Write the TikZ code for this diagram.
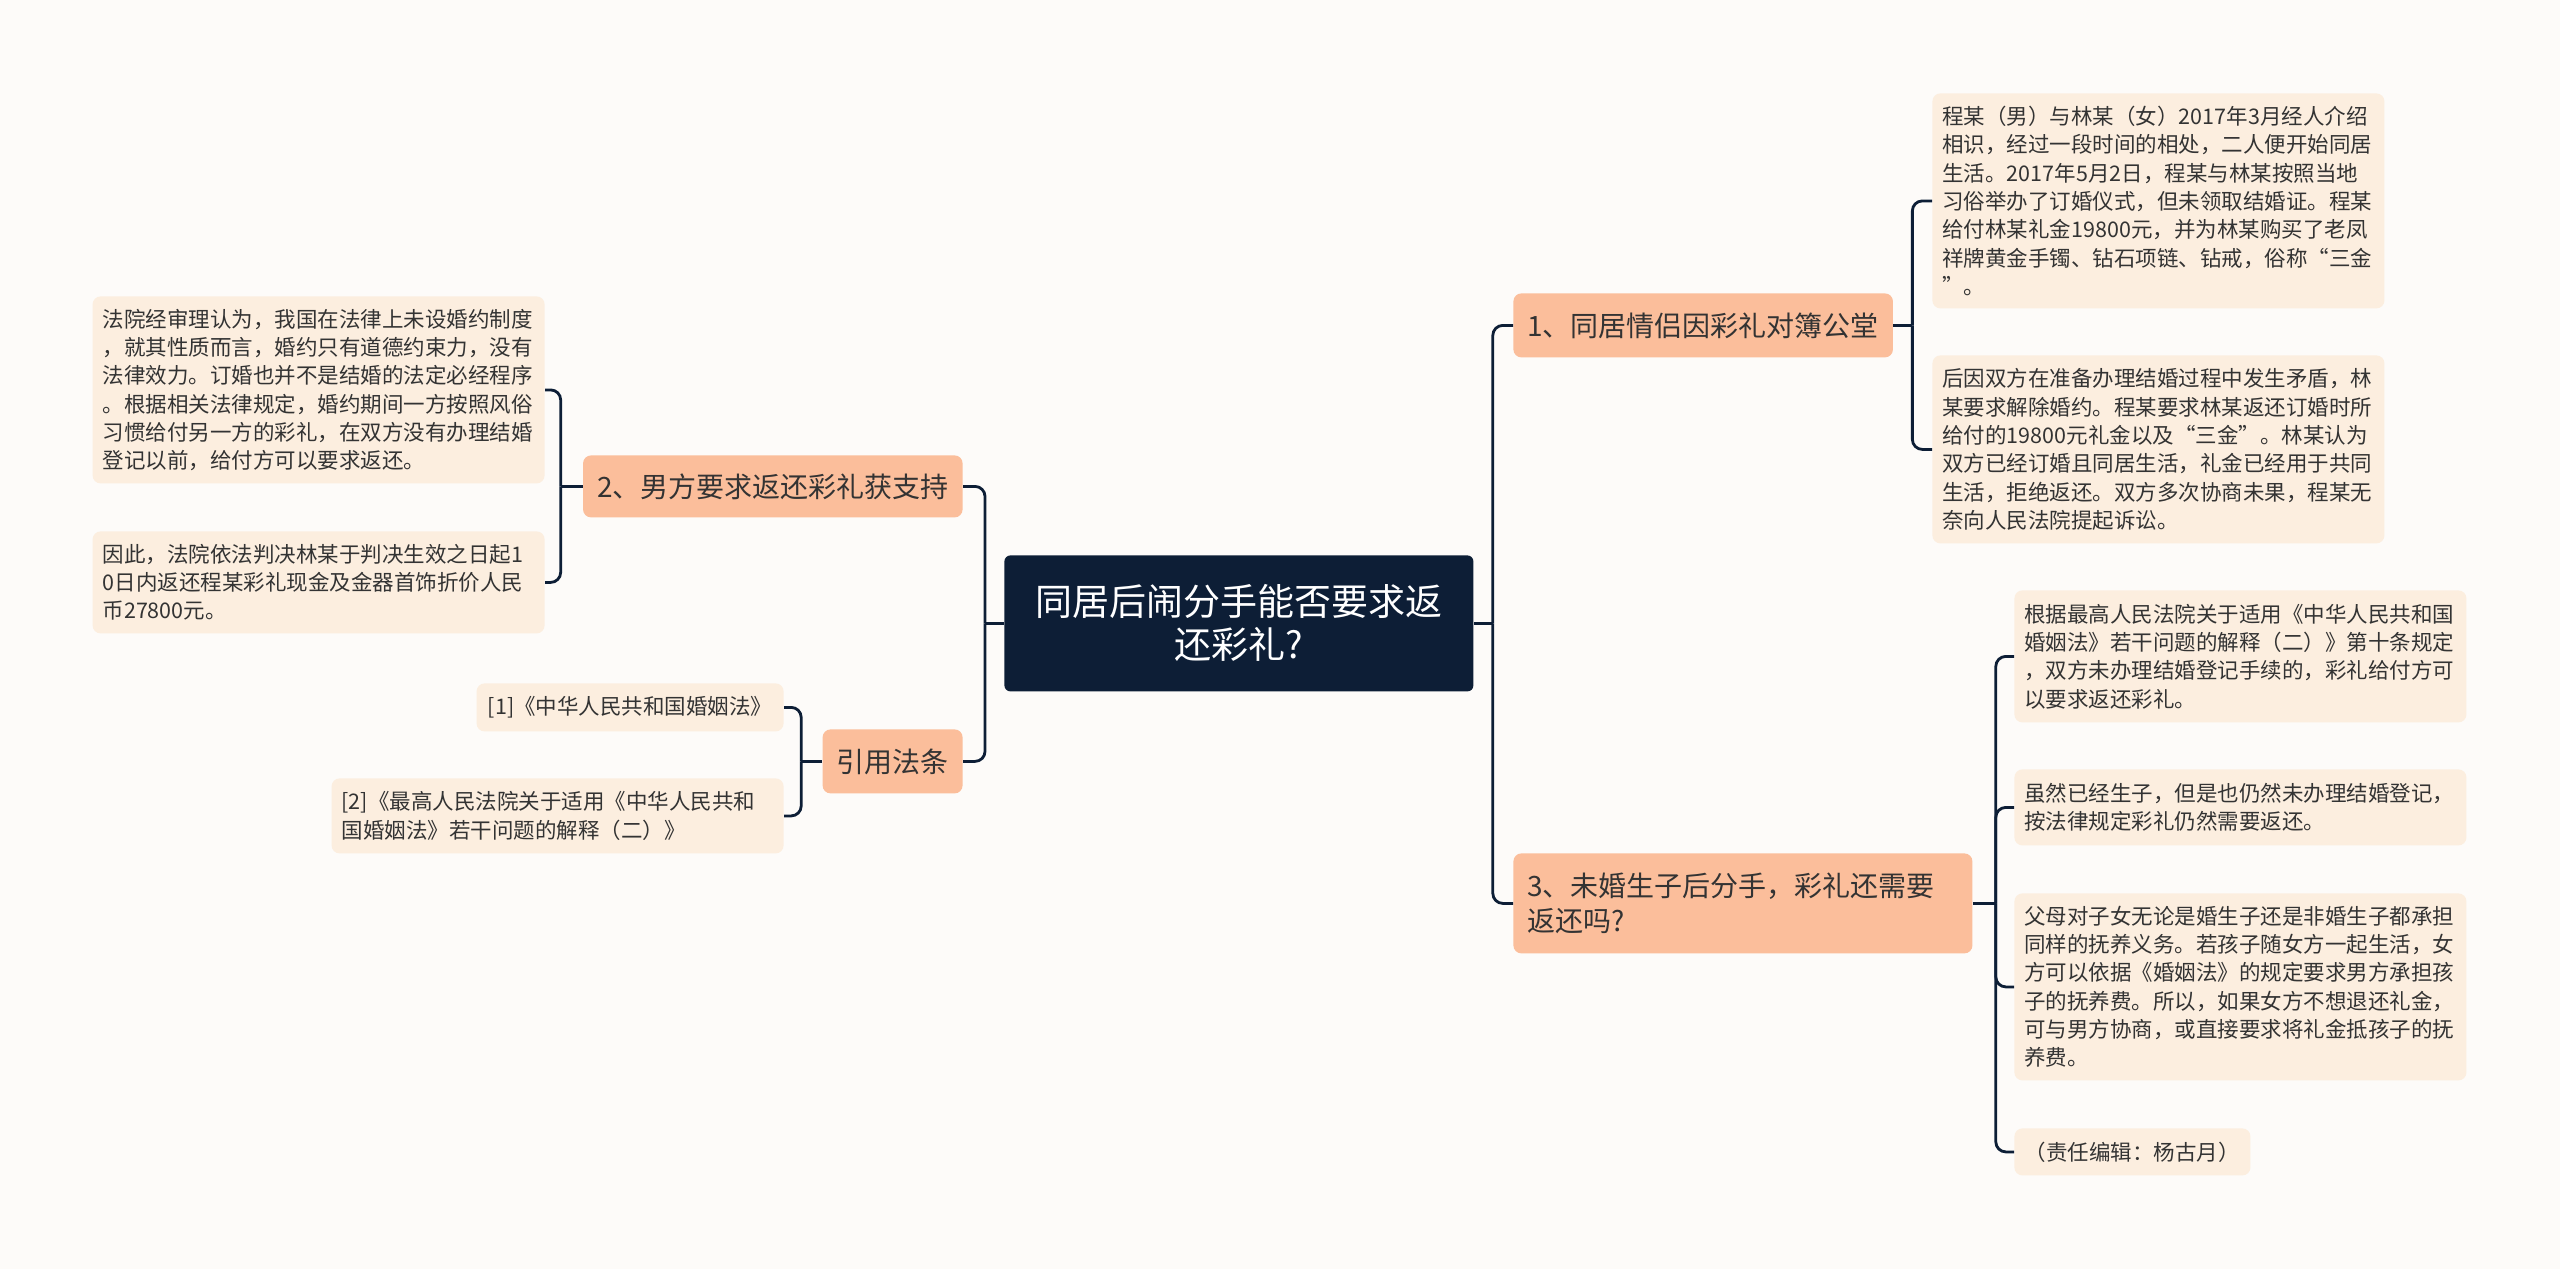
\documentclass[tikz,border=0pt]{standalone}
\usepackage{fontspec}
\setmainfont{Noto Sans CJK SC}
\definecolor{bgc}{HTML}{FDFBF9}
\definecolor{navy}{HTML}{0D1E36}
\definecolor{topicc}{HTML}{FBBE9B}
\definecolor{leafc}{HTML}{FCEEDF}
\definecolor{inkc}{HTML}{333333}

\begin{document}
\begin{tikzpicture}[x=0.5pt,y=-0.5pt,
  link/.style={draw=navy,line width=1.4pt,rounded corners=5pt},
  rootbox/.style={fill=navy,text=white,rounded corners=3pt,align=center,
    font=\fontsize{18.5pt}{21.5pt}\selectfont,minimum width=234.5pt,minimum height=68pt},
  topic/.style={fill=topicc,text=inkc,rounded corners=4pt,inner xsep=7pt,
    font=\fontsize{14pt}{17.2pt}\selectfont,minimum height=32pt},
  leaf/.style={fill=leafc,text=inkc,rounded corners=4pt,inner xsep=5pt,align=left,
    font=\fontsize{10.75pt}{14.15pt}\selectfont},
  wide/.style={text width=216pt}]
  % canvas
  \fill[bgc] (0,0) rectangle (2560,1269);
  \useasboundingbox (0,0) rectangle (2560,1269);
  % central topic
  \node[rootbox,anchor=north west] (root) at (1004,555) {同居后闹分手能否要求返\\还彩礼?};
  % right side
  \node[topic,anchor=north west,minimum width=189pt] (n1) at (1513,293) {1、同居情侣因彩礼对簿公堂};
  \node[topic,anchor=north west,minimum height=50pt,text width=215.5pt,align=left] (n3) at (1513,853)
       {3、未婚生子后分手，彩礼还需要\\返还吗?};
  \node[leaf,wide,anchor=north west,minimum height=107.5pt] (l1a) at (1932,93)
       {程某（男）与林某（女）2017年3月经人介绍\\相识，经过一段时间的相处，二人便开始同居\\生活。2017年5月2日，程某与林某按照当地\\习俗举办了订婚仪式，但未领取结婚证。程某\\给付林某礼金19800元，并为林某购买了老凤\\祥牌黄金手镯、钻石项链、钻戒，俗称“三金\\”。};
  \node[leaf,wide,anchor=north west,minimum height=94pt] (l1b) at (1932,355)
       {后因双方在准备办理结婚过程中发生矛盾，林\\某要求解除婚约。程某要求林某返还订婚时所\\给付的19800元礼金以及“三金”。林某认为\\双方已经订婚且同居生活，礼金已经用于共同\\生活，拒绝返还。双方多次协商未果，程某无\\奈向人民法院提起诉讼。};
  \node[leaf,wide,anchor=north west,minimum height=66pt] (l3a) at (2014,590)
       {根据最高人民法院关于适用《中华人民共和国\\婚姻法》若干问题的解释（二）》第十条规定\\，双方未办理结婚登记手续的，彩礼给付方可\\以要求返还彩礼。};
  \node[leaf,wide,anchor=north west,minimum height=38pt] (l3b) at (2014,769)
       {虽然已经生子，但是也仍然未办理结婚登记，\\按法律规定彩礼仍然需要返还。};
  \node[leaf,wide,anchor=north west,minimum height=93.5pt] (l3c) at (2014,893)
       {父母对子女无论是婚生子还是非婚生子都承担\\同样的抚养义务。若孩子随女方一起生活，女\\方可以依据《婚姻法》的规定要求男方承担孩\\子的抚养费。所以，如果女方不想退还礼金，\\可与男方协商，或直接要求将礼金抵孩子的抚\\养费。};
  \node[leaf,anchor=north west,minimum width=118pt,minimum height=23.5pt] (l3d) at (2014,1128)
       {（责任编辑：杨古月）};
  % left side
  \node[topic,anchor=north east,minimum width=188pt,minimum height=31pt] (n2) at (963,455) {2、男方要求返还彩礼获支持};
  \node[topic,anchor=north east,minimum width=68.5pt] (nref) at (963,729) {引用法条};
  \node[leaf,wide,anchor=north east,minimum height=93.5pt] (l2a) at (545,296)
       {法院经审理认为，我国在法律上未设婚约制度\\，就其性质而言，婚约只有道德约束力，没有\\法律效力。订婚也并不是结婚的法定必经程序\\。根据相关法律规定，婚约期间一方按照风俗\\习惯给付另一方的彩礼，在双方没有办理结婚\\登记以前，给付方可以要求返还。};
  \node[leaf,wide,anchor=north east,minimum height=51pt] (l2b) at (545,531)
       {因此，法院依法判决林某于判决生效之日起1\\0日内返还程某彩礼现金及金器首饰折价人民\\币27800元。};
  \node[leaf,anchor=north east,minimum width=153.5pt,minimum height=24pt] (ref1) at (784,683)
       {[1]《中华人民共和国婚姻法》};
  \node[leaf,wide,anchor=north east,minimum height=37.5pt] (ref2) at (784,778)
       {[2]《最高人民法院关于适用《中华人民共和\\国婚姻法》若干问题的解释（二）》};
  % branch points
  \coordinate (jr) at ([xshift=9.5pt]root.east);
  \coordinate (jl) at ([xshift=-9.5pt]root.west);
  \coordinate (j1) at ([xshift=9.5pt]n1.east);
  \coordinate (j3) at ([xshift=11.5pt]n3.east);
  \coordinate (j2) at ([xshift=-11pt]n2.west);
  \coordinate (jref) at ([xshift=-10.5pt]nref.west);
  % connectors
  \draw[link] (root.east) -- (jr);
  \foreach \c in {n1,n3} \draw[link] (jr) |- (\c.west);
  \draw[link] (n1.east) -- (j1);
  \foreach \c in {l1a,l1b} \draw[link] (j1) |- (\c.west);
  \draw[link] (n3.east) -- (j3);
  \foreach \c in {l3a,l3b,l3c,l3d} \draw[link] (j3) |- (\c.west);
  \draw[link] (root.west) -- (jl);
  \foreach \c in {n2,nref} \draw[link] (jl) |- (\c.east);
  \draw[link] (n2.west) -- (j2);
  \foreach \c in {l2a,l2b} \draw[link] (j2) |- (\c.east);
  \draw[link] (nref.west) -- (jref);
  \foreach \c in {ref1,ref2} \draw[link] (jref) |- (\c.east);
\end{tikzpicture}
\end{document}
